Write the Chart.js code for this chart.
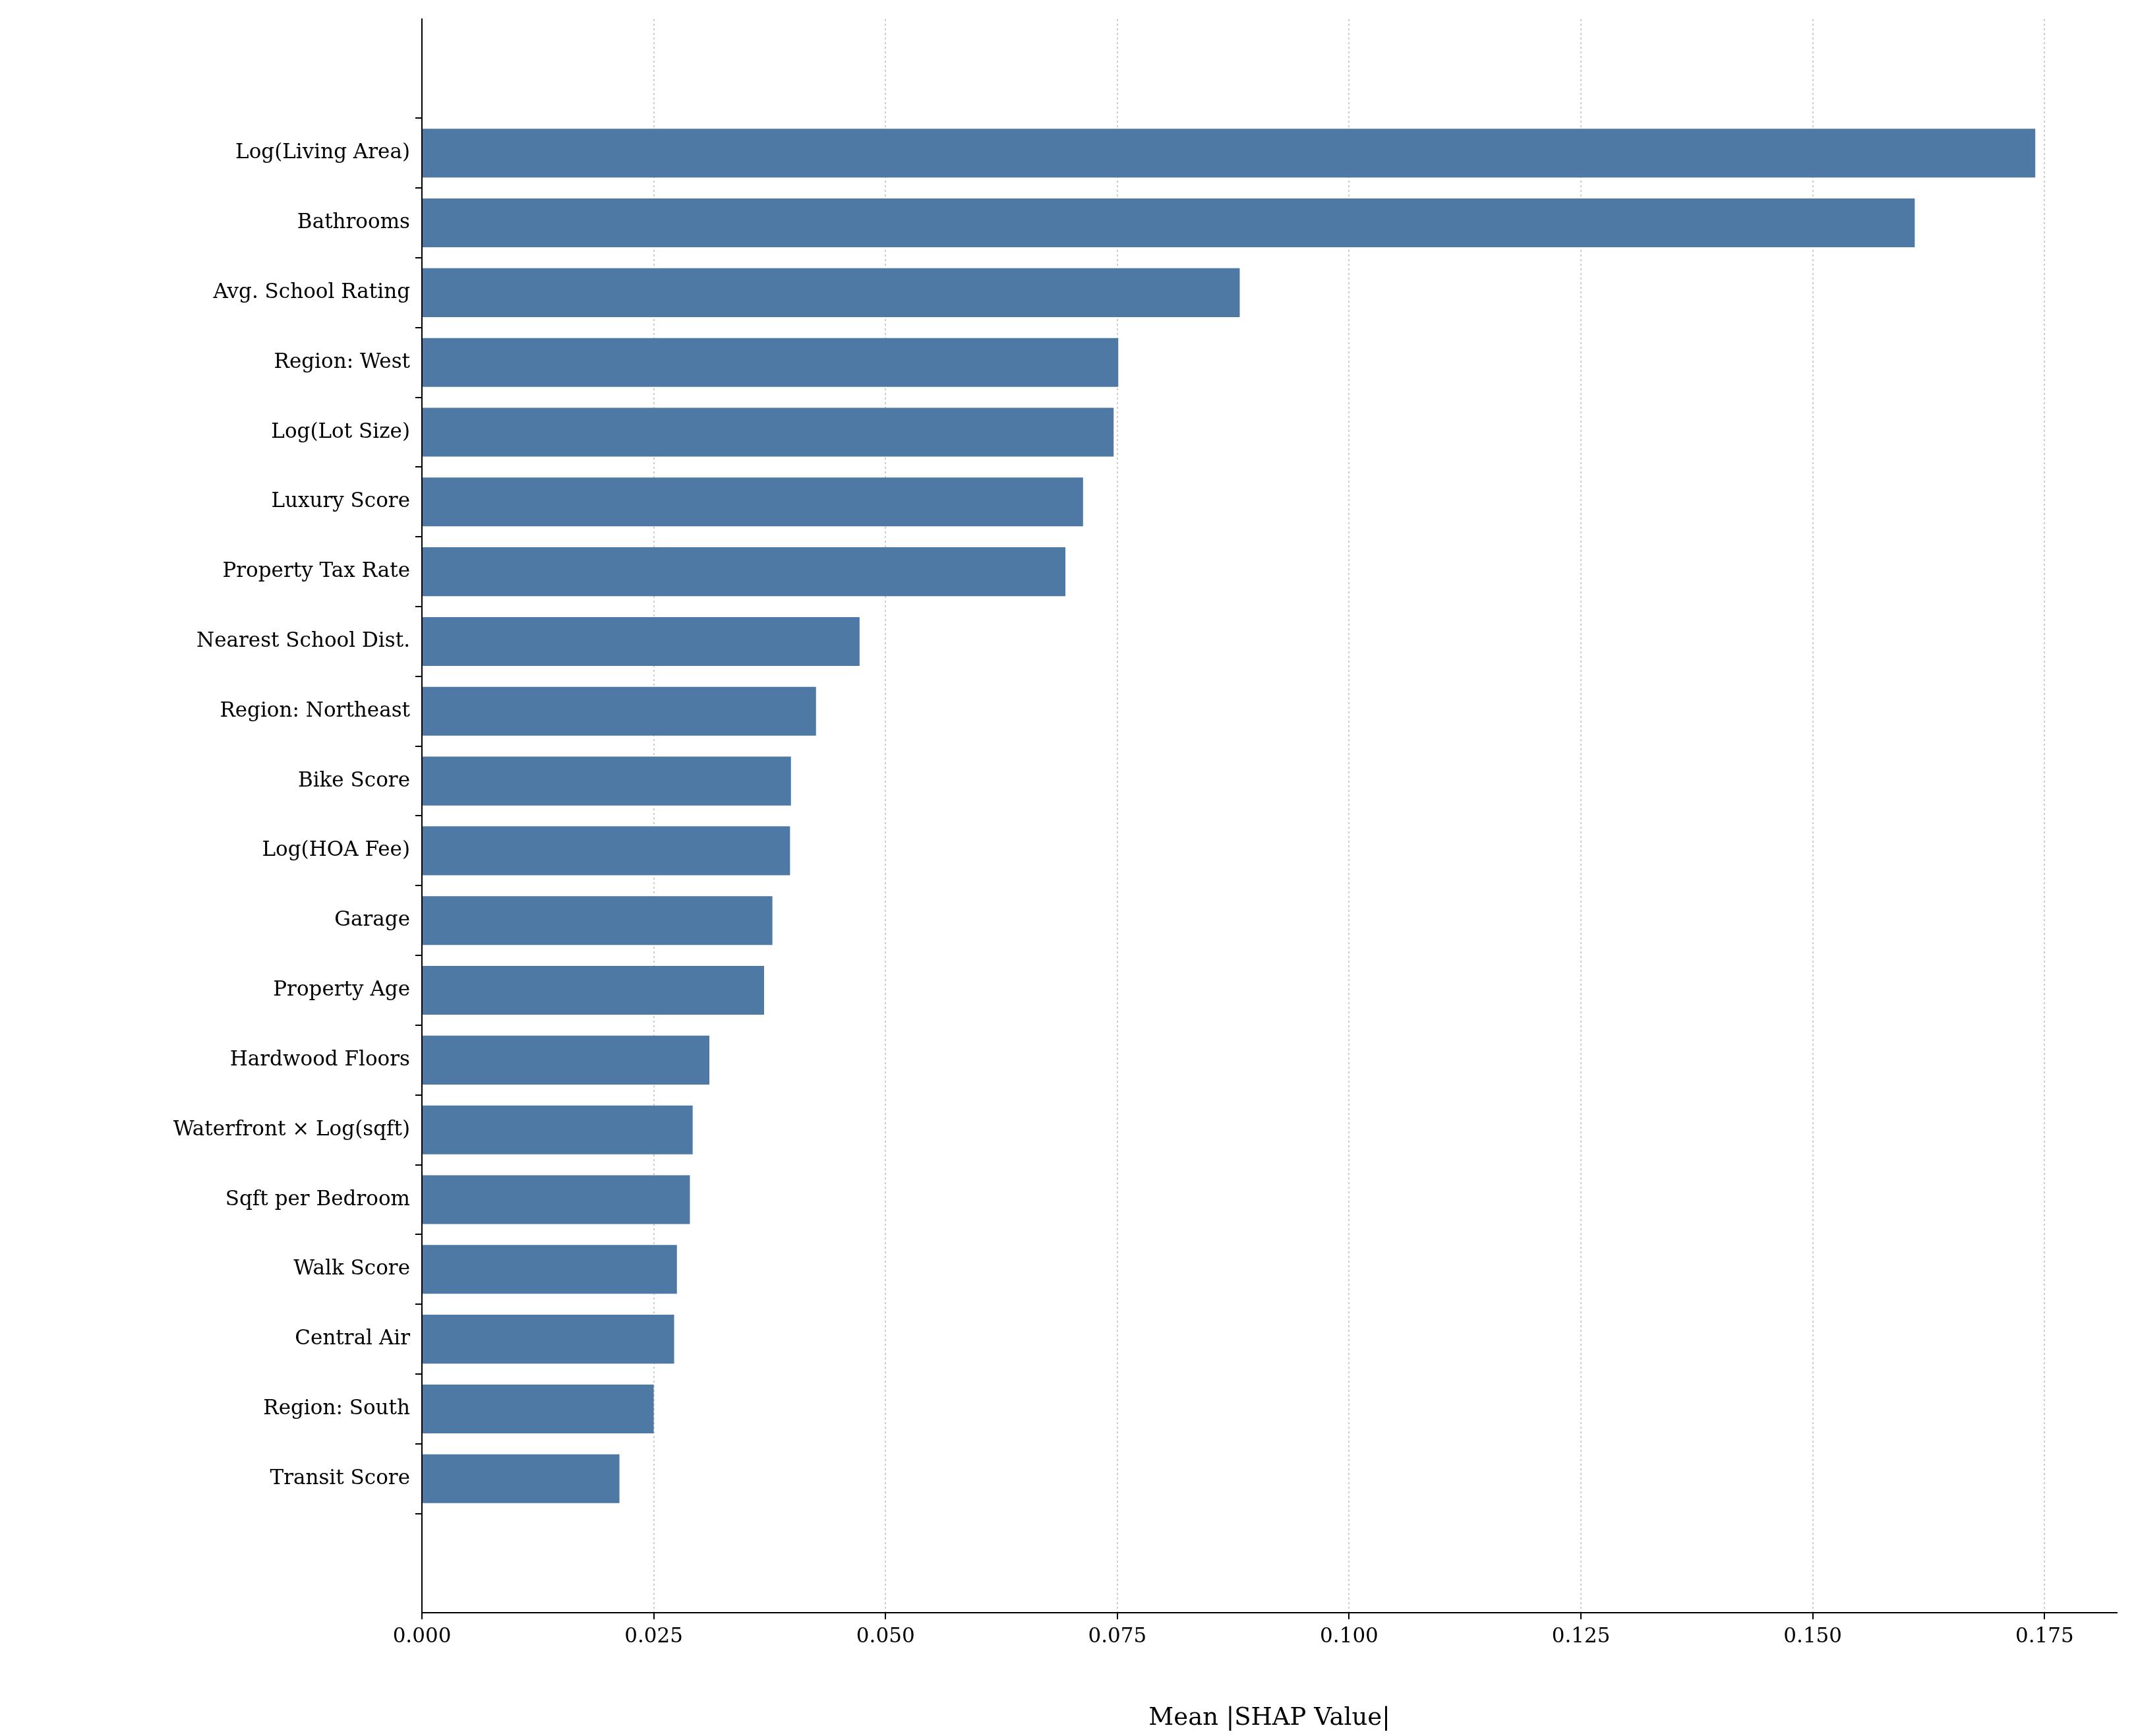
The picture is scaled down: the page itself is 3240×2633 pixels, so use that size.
<!DOCTYPE html>
<html>
<head>
<script src="https://cdn.jsdelivr.net/npm/chart.js@4"></script>
<style>body{margin:0;background:#fff}</style>
</head>
<body>
<canvas id="shapChart" width="3240" height="2633"></canvas>
<script>
var featureNames = ['Log(Living Area)', 'Bathrooms', 'Avg. School Rating', 'Region: West', 'Log(Lot Size)',
    'Luxury Score', 'Property Tax Rate', 'Nearest School Dist.', 'Region: Northeast', 'Bike Score',
    'Log(HOA Fee)', 'Garage', 'Property Age', 'Hardwood Floors', 'Waterfront \u00d7 Log(sqft)',
    'Sqft per Bedroom', 'Walk Score', 'Central Air', 'Region: South', 'Transit Score'];
var meanShap = [0.1740, 0.1610, 0.0882, 0.0751, 0.0746, 0.0713, 0.0694, 0.0472, 0.0425, 0.0398,
    0.0397, 0.0378, 0.0369, 0.0310, 0.0292, 0.0289, 0.0275, 0.0272, 0.0250, 0.0213];
var xTicks = [0, 0.025, 0.05, 0.075, 0.1, 0.125, 0.15, 0.175];

var barColor = 'rgb(78, 121, 165)';
var font = 'DejaVu Serif';

var shapData = meanShap.map(function(v, i) { return {x: v, y: i}; });

new Chart(document.getElementById('shapChart'), {
    type: 'bar',
    data: {
        datasets: [{
            data: shapData,
            backgroundColor: barColor,
            borderWidth: 0,
            barPercentage: 0.7,
            categoryPercentage: 1
        }]
    },
    options: {
        indexAxis: 'y',
        responsive: false,
        animation: false,
        devicePixelRatio: 1,
        layout: {padding: {left: 0, top: 29, right: 29, bottom: 0}},
        plugins: {legend: {display: false}, tooltip: {enabled: false}},
        scales: {
            x: {
                type: 'linear',
                min: 0,
                max: 0.1828,
                afterBuildTicks: function(axis) { axis.ticks = xTicks.map(function(v) { return {value: v}; }); },
                afterFit: function(axis) { axis.height = 187; },
                ticks: {
                    callback: function(value) { return value.toFixed(3); },
                    font: {family: font, size: 31},
                    color: '#000',
                    padding: 8
                },
                grid: {color: '#cccccc', lineWidth: 2, tickColor: '#000', tickLength: 10, tickBorderDash: []},
                border: {color: '#000', width: 2, dash: [3, 4]},
                title: {display: true, text: 'Mean |SHAP Value|', font: {family: font, size: 37}, color: '#000', padding: {top: 4}}
            },
            y: {
                type: 'linear',
                reverse: true,
                min: -1.35,
                max: 20.35,
                afterBuildTicks: function(axis) { axis.ticks = featureNames.map(function(n, i) { return {value: i}; }); },
                afterFit: function(axis) { axis.width = 640; },
                ticks: {
                    callback: function(value) { return featureNames[value]; },
                    font: {family: font, size: 31},
                    color: '#000',
                    padding: 8
                },
                grid: {drawOnChartArea: false, tickColor: '#000', tickLength: 10, lineWidth: 2},
                border: {color: '#000', width: 2}
            }
        }
    }
});
</script>
</body>
</html>
